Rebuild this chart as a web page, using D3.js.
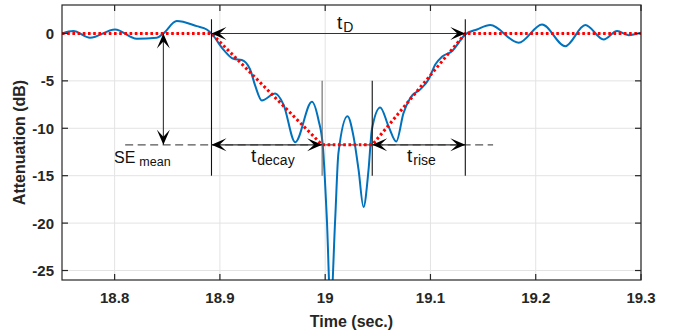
<!DOCTYPE html>
<html><head><meta charset="utf-8">
<script src="https://cdn.jsdelivr.net/npm/d3@7"></script>
<style>
html,body{margin:0;padding:0;background:#fff;}
svg{display:block;font-family:"Liberation Sans",Arial,Helvetica,sans-serif;}
</style></head>
<body><svg id="chart" width="673" height="333"></svg>
<script>
// ---- data ----
const time = [18.750,18.7607,18.7766,18.8004,18.821,18.840,18.8463,18.859,18.878,18.8875,18.8923,18.9033,18.9128,18.9208,18.9287,18.9335,18.9398,18.9525,18.9604,18.9715,18.9874,18.9936,18.9978,19.0016,19.0052,19.0095,19.0126,19.0212,19.0269,19.0317,19.0364,19.0412,19.0444,19.0523,19.0602,19.0675,19.0744,19.0808,19.0903,19.0982,19.1046,19.1109,19.1204,19.1331,19.1442,19.1568,19.1838,19.206,19.2281,19.2471,19.2645,19.2773,19.2883,19.300];
const attenuation = [0.0,0.25,-0.45,0.42,-0.55,-0.45,0.0,1.3,0.77,0.42,-0.05,-1.7,-2.67,-2.8,-3.8,-5.5,-7.07,-6.34,-7.5,-11.47,-7.2,-9.1,-11.9,-19.6,-29,-19.6,-12.6,-8.73,-10.85,-14.36,-18.3,-14.36,-10.1,-7.8,-9.8,-11.4,-8.4,-6.8,-5.9,-4.86,-3.27,-2.46,-1.87,-0.1,0.42,0.88,-0.98,0.95,-1.34,0.88,-0.63,0.25,-0.18,0.07];
const modelTime = [18.75, 18.892, 18.9971, 19.0447, 19.1331, 19.3];
const modelAtt = [0, 0, -11.75, -11.75, 0, 0];
const xTicks = [18.8, 18.9, 19.0, 19.1, 19.2, 19.3];
const xTickLabels = ["18.8","18.9","19","19.1","19.2","19.3"];
const yTicks = [0, -5, -10, -15, -20, -25];
const yTickLabels = ["0","-5","-10","-15","-20","-25"];
const tStart = 18.892, tDecayEnd = 18.9971, tRiseStart = 19.0447, tEnd = 19.1331;
const seMean = -11.75, seMarkerTime = 18.8463;

// ---- layout ----
const svg = d3.select("#chart");
const L = 62, R = 641, T = 5, B = 280;
const x = d3.scaleLinear().domain([18.75, 19.3]).range([L, R]);
const y = d3.scaleLinear().domain([-26, 3]).range([B, T]);
const axisColor = "#262626";

// grid
const g = svg.append("g");
g.selectAll(".vg").data(xTicks).enter().append("line")
  .attr("x1", d => x(d)).attr("x2", d => x(d)).attr("y1", T).attr("y2", B)
  .attr("stroke", "#e3e3e3").attr("stroke-width", 1);
g.selectAll(".hg").data(yTicks).enter().append("line")
  .attr("y1", d => y(d)).attr("y2", d => y(d)).attr("x1", L).attr("x2", R)
  .attr("stroke", "#e3e3e3").attr("stroke-width", 1);

// clip
svg.append("defs").append("clipPath").attr("id", "clip")
  .append("rect").attr("x", L).attr("y", T).attr("width", R - L).attr("height", B - T);

const plot = svg.append("g").attr("clip-path", "url(#clip)");

// SE mean dashed line
plot.append("line").attr("x1", x(18.81)).attr("x2", x(19.1595))
  .attr("y1", y(seMean)).attr("y2", y(seMean))
  .attr("stroke", "#555").attr("stroke-width", 1.3).attr("stroke-dasharray", "8,4.5");

// blue measured line
const line = d3.line().x((d, i) => x(time[i])).y(d => y(d)).curve(d3.curveMonotoneX);
plot.append("path").datum(attenuation).attr("d", line)
  .attr("fill", "none").attr("stroke", "#0072BD").attr("stroke-width", 2);

// red model line
const mline = d3.line().x((d, i) => x(modelTime[i])).y(d => y(d));
plot.append("path").datum(modelAtt).attr("d", mline)
  .attr("fill", "none").attr("stroke", "#ff0000").attr("stroke-width", 3)
  .attr("stroke-dasharray", "2.6,2.6");

// annotation vertical lines
const ann = svg.append("g");
function vline(t, y1, y2, col) {
  ann.append("line").attr("x1", x(t)).attr("x2", x(t)).attr("y1", y(y1)).attr("y2", y(y2))
    .attr("stroke", col).attr("stroke-width", 1.1);
}
vline(tStart, 1.5, -15, "#111");
vline(tEnd, 1.5, -15, "#111");
vline(tDecayEnd, -5, -15, "#666");
vline(tRiseStart, -5, -15, "#111");

// arrowhead: tip at (0,0) pointing in direction angle
function head(px, py, angle) {
  const Lh = 15, W = 13, notch = 8;
  const p = `M0,0 L${Lh},${-W/2} L${notch},0 L${Lh},${W/2} Z`;
  ann.append("path").attr("d", p)
    .attr("transform", `translate(${px},${py}) rotate(${angle})`)
    .attr("fill", "#000");
}
function hArrow(t1, t2, yv) {
  ann.append("line").attr("x1", x(t1)).attr("x2", x(t2)).attr("y1", y(yv)).attr("y2", y(yv))
    .attr("stroke", "#333").attr("stroke-width", 1.1);
  head(x(t1), y(yv), 0);
  head(x(t2), y(yv), 180);
}
hArrow(tStart, tEnd, 0);
hArrow(tStart, tDecayEnd, seMean);
hArrow(tRiseStart, tEnd, seMean);
// vertical SE arrow
ann.append("line").attr("x1", x(seMarkerTime)).attr("x2", x(seMarkerTime))
  .attr("y1", y(0)).attr("y2", y(seMean)).attr("stroke", "#333").attr("stroke-width", 1.1);
head(x(seMarkerTime), y(0), 90);
head(x(seMarkerTime), y(seMean), -90);

// labels
function label(px, py, main, sub, size, subSize, gap) {
  const t = ann.append("text").attr("x", px).attr("y", py)
    .attr("font-size", size).attr("fill", "#111");
  t.append("tspan").text(main);
  t.append("tspan").attr("dy", 3).attr("dx", gap).attr("font-size", subSize).text(sub);
}
label(337, 29, "t", "D", 19, 14, 1);
label(114, 163, "SE", "mean", 16, 12.5, 4);
label(251, 162, "t", "decay", 19, 14, 1);
label(407, 162, "t", "rise", 19, 14, 1);

// axes box
const ax = svg.append("g");
ax.append("rect").attr("x", L).attr("y", T).attr("width", R - L).attr("height", B - T)
  .attr("fill", "none").attr("stroke", axisColor).attr("stroke-width", 1.2);
xTicks.forEach(d => {
  ax.append("line").attr("x1", x(d)).attr("x2", x(d)).attr("y1", B).attr("y2", B - 6).attr("stroke", axisColor).attr("stroke-width", 1.2);
  ax.append("line").attr("x1", x(d)).attr("x2", x(d)).attr("y1", T).attr("y2", T + 6).attr("stroke", axisColor).attr("stroke-width", 1.2);
});
yTicks.forEach(d => {
  ax.append("line").attr("x1", L).attr("x2", L + 6).attr("y1", y(d)).attr("y2", y(d)).attr("stroke", axisColor).attr("stroke-width", 1.2);
  ax.append("line").attr("x1", R).attr("x2", R - 6).attr("y1", y(d)).attr("y2", y(d)).attr("stroke", axisColor).attr("stroke-width", 1.2);
});
ax.selectAll(".xl").data(xTicks).enter().append("text")
  .attr("x", d => x(d)).attr("y", 303).attr("text-anchor", "middle")
  .attr("font-size", 15).attr("font-weight", "bold").attr("fill", axisColor)
  .text((d, i) => xTickLabels[i]);
ax.selectAll(".yl").data(yTicks).enter().append("text")
  .attr("x", 54).attr("y", d => y(d)).attr("dy", "0.36em").attr("text-anchor", "end")
  .attr("font-size", 15).attr("font-weight", "bold").attr("fill", axisColor)
  .text((d, i) => yTickLabels[i]);
ax.append("text").attr("x", (L + R) / 2).attr("y", 327).attr("text-anchor", "middle")
  .attr("font-size", 16).attr("font-weight", "bold").attr("fill", axisColor).text("Time (sec.)");
ax.append("text").attr("transform", `translate(25,${(T + B) / 2}) rotate(-90)`)
  .attr("text-anchor", "middle")
  .attr("font-size", 16).attr("font-weight", "bold").attr("fill", axisColor).text("Attenuation (dB)");
</script>
</body></html>
